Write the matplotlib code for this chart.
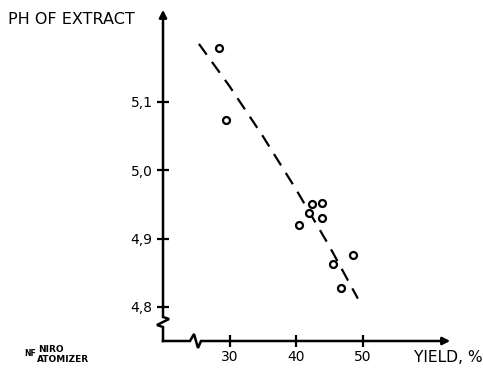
import matplotlib
matplotlib.use('Agg')
import matplotlib.pyplot as plt

# measured points
yield_pct = [28.4, 29.4, 42.4, 43.9, 41.9, 43.9, 40.4, 48.5, 45.6, 46.8]
ph = [5.179, 5.073, 4.951, 4.952, 4.937, 4.930, 4.920, 4.876, 4.863, 4.827]

# dashed trend curve
curve_x = [25.4, 30, 35, 40, 45, 49.3]
curve_y = [5.185, 5.123, 5.050, 4.972, 4.889, 4.812]

x_ticks = [30, 40, 50]
y_ticks = [4.8, 4.9, 5.0, 5.1]
y_tick_labels = ['4,8', '4,9', '5,0', '5,1']

plt.rcParams['font.family'] = ['DejaVu Sans']

fig = plt.figure(figsize=(4.83, 3.69), dpi=100)
ax = fig.add_axes([163 / 483, 28 / 369, 290 / 483, 334 / 369])

ax.plot(curve_x, curve_y, color='black', lw=1.6, dashes=(6, 4), zorder=2)
ax.plot(yield_pct, ph, 'o', ms=5, mfc='white', mec='black', mew=1.6, zorder=3)

ax.set_xlim(20, 63.6)
ax.set_ylim(4.75, 5.239)
for s in ax.spines.values():
    s.set_visible(False)

ax.set_xticks(x_ticks)
ax.set_yticks(y_ticks)
ax.set_yticklabels(y_tick_labels)
ax.tick_params(direction='inout', length=9, width=1.6, labelsize=10, pad=2)
ax.tick_params(axis='y', pad=3)

# axis lines with break marks (pixel offsets from origin)
W, H = 290.0, 334.0
yx = [0, 0, -6, 6, 0, 0]
yy = [0, 14, 16, 22, 24, H - 12]
ax.plot([v / W for v in yx], [v / H for v in yy], color='black', lw=1.8,
        transform=ax.transAxes, clip_on=False, solid_joinstyle='miter')
xx = [0, 27, 31, 35, 38, W - 12]
xy = [0, 0, 7, -7, 0, 0]
ax.plot([v / W for v in xx], [v / H for v in xy], color='black', lw=1.8,
        transform=ax.transAxes, clip_on=False, solid_joinstyle='miter')
ax.annotate('', xy=(0, 1), xytext=(0, 1 - 14 / H), xycoords='axes fraction',
            arrowprops=dict(arrowstyle='-|>', lw=1.8, color='black', mutation_scale=11))
ax.annotate('', xy=(1, 0), xytext=(1 - 14 / W, 0), xycoords='axes fraction',
            arrowprops=dict(arrowstyle='-|>', lw=1.8, color='black', mutation_scale=11))

fig.text(8 / 483, 1 - 20 / 369, 'PH OF EXTRACT', fontsize=11.5, va='center', ha='left')
fig.text(483 / 483, 1 - 357 / 369, 'YIELD, %', fontsize=11.2, va='center', ha='right')

fig.text(38 / 483, 1 - 349.5 / 369, 'NIRO', fontsize=6.5, fontweight='heavy', va='center', ha='left')
fig.text(37 / 483, 1 - 359.5 / 369, 'ATOMIZER', fontsize=6.5, fontweight='heavy', va='center', ha='left')
fig.text(24 / 483, 1 - 354 / 369, 'NF', fontsize=5.5, fontweight='bold', va='center', ha='left')

fig.savefig('out.png', dpi=100)
